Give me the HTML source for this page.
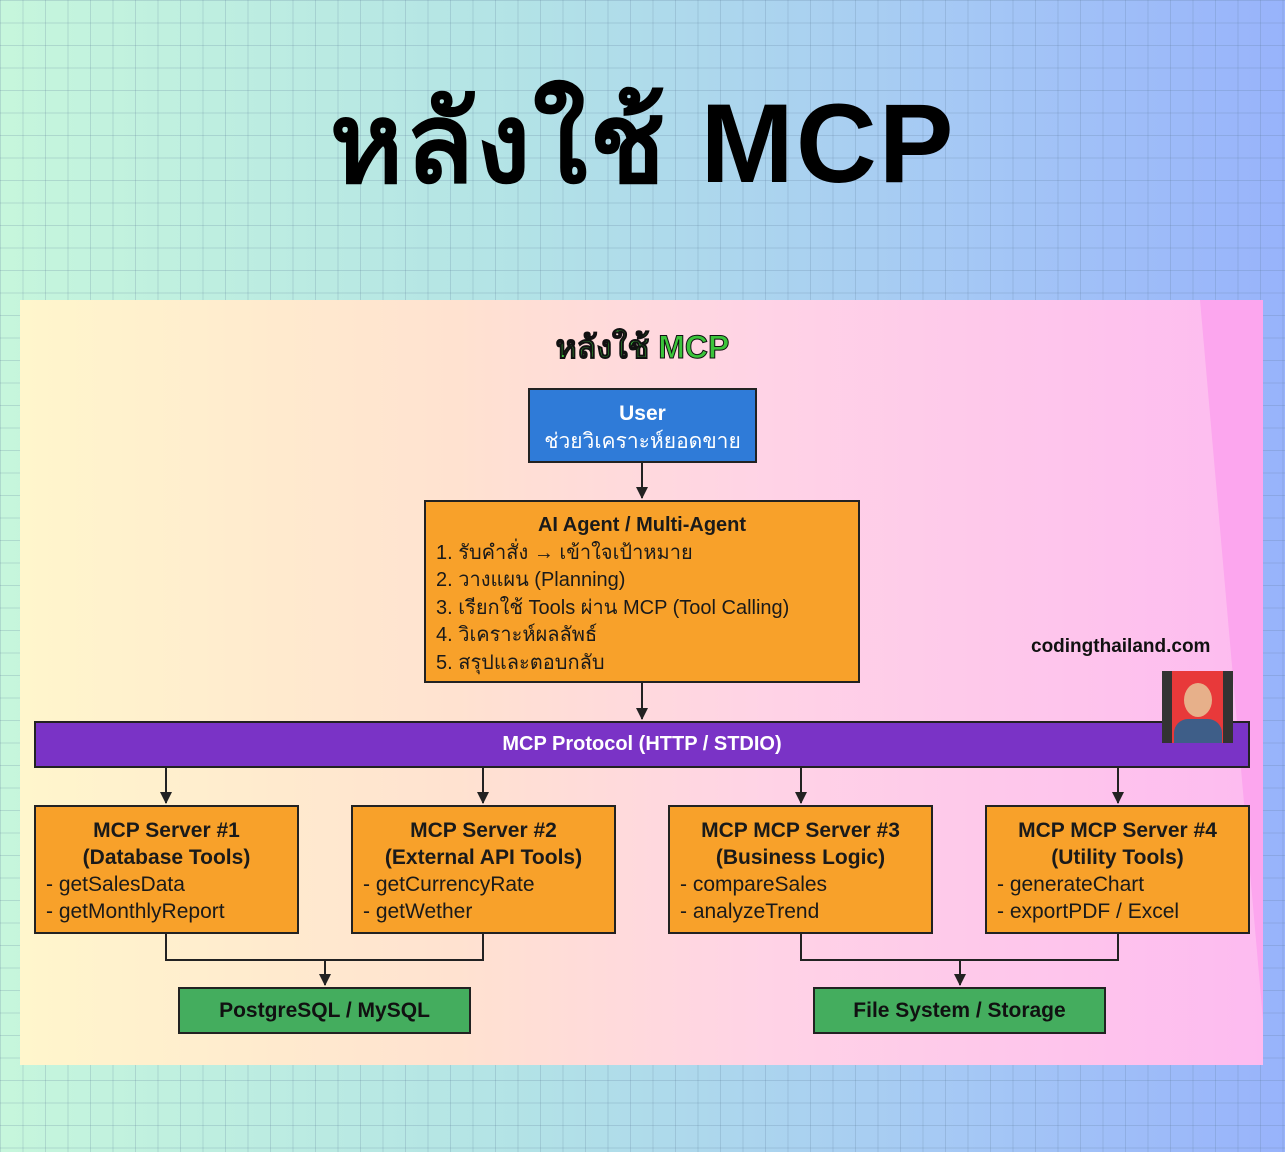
<!DOCTYPE html><html><head><meta charset="utf-8"><style>
body{margin:0;width:1285px;height:1152px;position:relative;overflow:hidden;font-family:"Liberation Sans","DejaVu Sans",sans-serif;
background:linear-gradient(90deg,#c6f6dc 0%,#b3e3e6 40%,#a5c8f5 75%,#98b3fb 100%);}
.grid{position:absolute;inset:0;background-image:linear-gradient(rgba(90,120,150,.22) 1px,transparent 1px),linear-gradient(90deg,rgba(90,120,150,.22) 1px,transparent 1px);background-size:22.5px 22.5px;}
h1{position:absolute;left:0;width:1285px;top:84px;margin:0;text-align:center;font-size:112px;font-weight:900;color:#000;letter-spacing:2px;line-height:120px}
.panel{position:absolute;left:20px;top:300px;width:1243px;height:765px;background:linear-gradient(90deg,#fff6cc 0%,#ffe2d0 35%,#ffd3e6 60%,#fdbbf0 100%);overflow:hidden}
.b{position:absolute;box-sizing:border-box;border:2px solid #222;}
.o{background:#f8a12a;color:#1a1a1a}
.c{text-align:center}
</style></head><body><div class="grid"></div>
<h1>หลังใช้ MCP</h1>
<div class="panel"><div style="position:absolute;left:1180px;top:0;width:200px;height:800px;background:#fca6ee;transform:skewX(5deg);transform-origin:top left"></div></div>
<div style="position:absolute;left:0;width:1285px;top:322px;text-align:center;font-size:32px;font-weight:900;color:#3bc43b;-webkit-text-stroke:1px #111">หลังใช้ MCP</div>
<div class="b c" style="left:528px;top:388px;width:229px;height:75px;background:#2f7bd8;color:#fff;font-size:21px;padding-top:10px;line-height:28px"><b>User</b><br>ช่วยวิเคราะห์ยอดขาย</div>
<div class="b o" style="left:424px;top:500px;width:436px;height:183px;font-size:20px;line-height:27.5px;padding:10px 0 0 10px"><div class="c" style="font-weight:bold;margin-left:-10px">AI Agent / Multi-Agent</div>1. รับคำสั่ง → เข้าใจเป้าหมาย<br>2. วางแผน (Planning)<br>3. เรียกใช้ Tools ผ่าน MCP (Tool Calling)<br>4. วิเคราะห์ผลลัพธ์<br>5. สรุปและตอบกลับ</div>
<div class="b c" style="left:34px;top:721px;width:1216px;height:47px;background:#7a33c6;color:#fff;font-size:20px;font-weight:bold;line-height:43px">MCP Protocol (HTTP / STDIO)</div>
<div style="position:absolute;left:1031px;top:636px;font-size:19px;font-weight:bold;color:#111">codingthailand.com</div>
<div style="position:absolute;left:1162px;top:671px;width:71px;height:72px;background:#333"><div style="position:absolute;left:10px;top:0;width:51px;height:72px;background:#e8393a"></div><div style="position:absolute;left:22px;top:12px;width:28px;height:34px;border-radius:50%;background:#e7b08a"></div><div style="position:absolute;left:12px;top:48px;width:48px;height:24px;border-radius:14px 14px 0 0;background:#3e5e88"></div></div>
<div class="b o" style="left:34px;top:805px;width:265px;height:129px;font-size:21px;line-height:27px;padding:10px 0 0 10px"><div class="c" style="font-weight:bold;margin-left:-10px">MCP Server #1<br>(Database Tools)</div>- getSalesData<br>- getMonthlyReport</div>
<div class="b o" style="left:351px;top:805px;width:265px;height:129px;font-size:21px;line-height:27px;padding:10px 0 0 10px"><div class="c" style="font-weight:bold;margin-left:-10px">MCP Server #2<br>(External API Tools)</div>- getCurrencyRate<br>- getWether</div>
<div class="b o" style="left:668px;top:805px;width:265px;height:129px;font-size:21px;line-height:27px;padding:10px 0 0 10px"><div class="c" style="font-weight:bold;margin-left:-10px">MCP MCP Server #3<br>(Business Logic)</div>- compareSales<br>- analyzeTrend</div>
<div class="b o" style="left:985px;top:805px;width:265px;height:129px;font-size:21px;line-height:27px;padding:10px 0 0 10px"><div class="c" style="font-weight:bold;margin-left:-10px">MCP MCP Server #4<br>(Utility Tools)</div>- generateChart<br>- exportPDF / Excel</div>
<div class="b c" style="left:178px;top:987px;width:293px;height:47px;background:#44ad5e;color:#111;font-size:21px;font-weight:bold;line-height:43px">PostgreSQL / MySQL</div>
<div class="b c" style="left:813px;top:987px;width:293px;height:47px;background:#44ad5e;color:#111;font-size:21px;font-weight:bold;line-height:43px">File System / Storage</div>
<svg width="1285" height="1152" style="position:absolute;left:0;top:0" fill="none" stroke="#222" stroke-width="2">
<defs><marker id="a" markerWidth="12" markerHeight="12" refX="11" refY="6" orient="auto" markerUnits="userSpaceOnUse"><path d="M0,0L12,6L0,12z" fill="#222" stroke="none"/></marker></defs>
<path d="M642 463V498" marker-end="url(#a)"/>
<path d="M642 683V719" marker-end="url(#a)"/>
<path d="M166 768V803" marker-end="url(#a)"/>
<path d="M483 768V803" marker-end="url(#a)"/>
<path d="M801 768V803" marker-end="url(#a)"/>
<path d="M1118 768V803" marker-end="url(#a)"/>
<path d="M325 960V985" marker-end="url(#a)"/>
<path d="M960 960V985" marker-end="url(#a)"/>
<path d="M166 934V960H483V934M801 934V960H1118V934"/>
</svg>
</body></html>
